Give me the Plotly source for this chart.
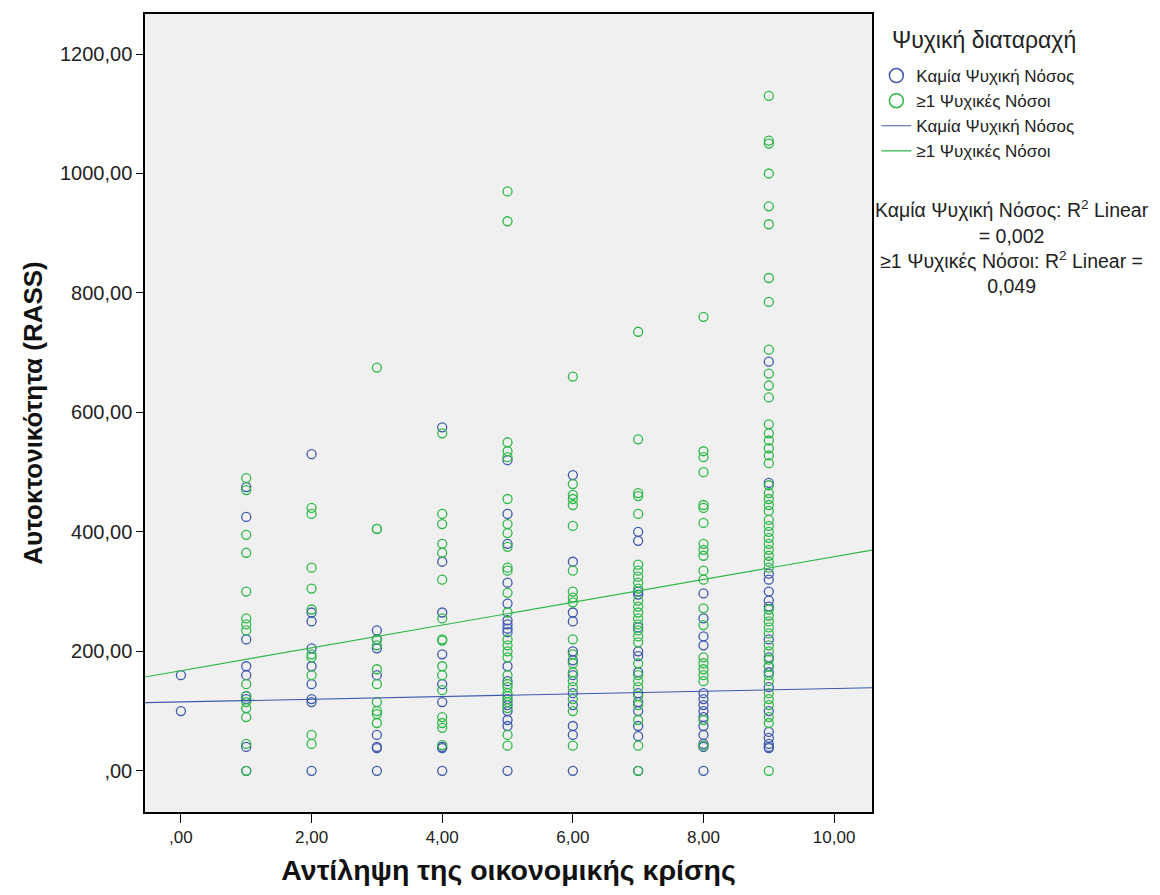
import plotly.graph_objects as go

# ---- data ----
blue_by_x = {
    0: [160, 100],
    1: [475, 425, 220, 175, 160, 125, 120, 40, 0],
    2: [530, 265, 250, 205, 175, 145, 120, 115, 0],
    3: [235, 220, 205, 160, 60, 40, 38, 0],
    4: [575, 350, 265, 195, 145, 115, 40, 38, 0],
    5: [520, 430, 380, 315, 280, 252, 245, 238, 232, 175, 150, 120, 110, 100, 85, 75, 0],
    6: [495, 350, 265, 250, 200, 185, 160, 130, 110, 75, 60, 0],
    7: [400, 385, 300, 295, 240, 200, 192, 165, 130, 115, 100, 75, 58, 0],
    8: [297, 255, 225, 210, 130, 120, 110, 100, 90, 75, 60, 45, 40, 0],
    9: [685, 482, 330, 320, 300, 285, 275, 220, 190, 175, 165, 140, 100, 65, 55, 45, 40, 38],
}
green_by_x = {
    1: [490, 470, 395, 365, 300, 255, 245, 235, 145, 125, 115, 105, 90, 45, 0],
    2: [440, 430, 340, 305, 270, 195, 190, 160, 60, 45],
    3: [675, 405, 405, 220, 210, 170, 145, 115, 100, 95, 80],
    4: [565, 430, 413, 380, 365, 320, 255, 220, 218, 175, 160, 135, 90, 80, 72, 43],
    5: [970, 920, 550, 535, 525, 455, 413, 398, 375, 340, 335, 298, 265, 220, 210, 200,
        190, 160, 145, 140, 130, 125, 115, 105, 60, 42],
    6: [660, 480, 462, 455, 445, 410, 335, 300, 290, 282, 220, 195, 180, 165, 150, 140,
        120, 100, 42],
    7: [735, 555, 465, 460, 430, 345, 335, 325, 315, 305, 285, 275, 265, 255, 245, 235,
        225, 215, 180, 160, 150, 140, 125, 110, 85, 42, 0],
    8: [760, 535, 525, 500, 445, 440, 415, 380, 370, 360, 335, 320, 272, 244, 190, 180,
        170, 160, 150, 85, 42],
    9: [1130, 1055, 1050, 1000, 945, 915, 825, 785, 705, 665, 645, 625, 580, 565, 553,
        540, 528, 515, 478, 465, 455, 445, 435, 420, 410, 400, 390, 380, 370, 360, 350,
        340, 270, 260, 250, 240, 230, 210, 200, 186, 175, 160, 150, 130, 120, 110, 90,
        80, 0],
}
# linear fits (intercept, slope)
fit_blue = (115.2, 2.25)
fit_green = (167.5, 19.1)
x_range = [-0.55, 10.58]
y_range = [-69, 1267]

legend_title = "Ψυχική διαταραχή"
group_names = ["Καμία Ψυχική Νόσος", "≥1 Ψυχικές Νόσοι"]
x_tickvals = [0, 2, 4, 6, 8, 10]
x_ticktext = [",00", "2,00", "4,00", "6,00", "8,00", "10,00"]
y_tickvals = [0, 200, 400, 600, 800, 1000, 1200]
y_ticktext = [",00", "200,00", "400,00", "600,00", "800,00", "1000,00", "1200,00"]

BLUE = "#3E58AC"
GREEN = "#2EB848"
FONT = "Liberation Sans, Arial, sans-serif"


def flatten(d):
    xs, ys = [], []
    for k, vals in d.items():
        for v in vals:
            xs.append(k)
            ys.append(v)
    return xs, ys


bx, by = flatten(blue_by_x)
gx, gy = flatten(green_by_x)

fig = go.Figure()
for xs, ys, col, nm in [(bx, by, BLUE, group_names[0]), (gx, gy, GREEN, group_names[1])]:
    fig.add_trace(go.Scatter(x=xs, y=ys, mode="markers", name=nm, showlegend=False,
                             marker=dict(symbol="circle-open", size=9, color=col,
                                         line=dict(width=1.3, color=col))))
# legend entries for the marker groups (larger glyphs, as in the reference legend)
for col, nm in [(BLUE, group_names[0]), (GREEN, group_names[1])]:
    fig.add_trace(go.Scatter(x=[None], y=[None], mode="markers", name=nm,
                             marker=dict(symbol="circle-open", size=14, color=col,
                                         line=dict(width=1.5, color=col))))
for (a, b), col, nm in [(fit_blue, BLUE, group_names[0]), (fit_green, GREEN, group_names[1])]:
    fig.add_trace(go.Scatter(x=x_range, y=[a + b * x_range[0], a + b * x_range[1]],
                             mode="lines", name=nm, line=dict(color=col, width=1.2)))

fig.update_layout(
    width=1160, height=895,
    margin=dict(l=145, r=288, t=14, b=83),
    paper_bgcolor="white", plot_bgcolor="#F0F0F0",
    font=dict(family=FONT, size=15, color="#222"),
    showlegend=True,
    legend=dict(
        x=1.006, xanchor="left", y=(812 - 58) / 798, yanchor="top",
        font=dict(size=17), bgcolor="rgba(0,0,0,0)", tracegroupgap=0,
        itemwidth=30, itemsizing="trace",
    ),
    xaxis=dict(range=x_range, tickvals=x_tickvals, ticktext=x_ticktext,
               showgrid=False, zeroline=False, showline=True, mirror=True,
               linecolor="black", linewidth=1.5, ticks="outside", ticklen=9,
               tickcolor="black", tickwidth=1.3,
               tickfont=dict(size=17),
               title=dict(text="<b>Αντίληψη της οικονομικής κρίσης</b>",
                          font=dict(size=28.5, color="#111"), standoff=14)),
    yaxis=dict(range=y_range, tickvals=y_tickvals, ticktext=y_ticktext,
               showgrid=False, zeroline=False, showline=True, mirror=True,
               linecolor="black", linewidth=1.5, ticks="outside", ticklen=7,
               tickcolor="black", tickwidth=1.3,
               tickfont=dict(size=20),
               title=dict(text="<b>Αυτοκτονικότητα (RASS)</b>",
                          font=dict(size=26, color="#111"), standoff=10)),
)

fig.add_annotation(
    xref="paper", yref="paper", x=(890 - 145) / 727, y=(812 - 40) / 798,
    xanchor="left", yanchor="middle", text=legend_title, showarrow=False,
    font=dict(size=23, color="#222"),
)

fig.add_annotation(
    xref="paper", yref="paper", x=1.1926, y=(812 - 195) / 798, xanchor="center", yanchor="top",
    text="Καμία Ψυχική Νόσος: R<sup>2</sup> Linear<br>= 0,002<br>≥1 Ψυχικές Νόσοι: R<sup>2</sup> Linear =<br>0,049",
    showarrow=False, align="center", font=dict(size=19.5, color="#222"),
)

fig.write_html("out.html")
